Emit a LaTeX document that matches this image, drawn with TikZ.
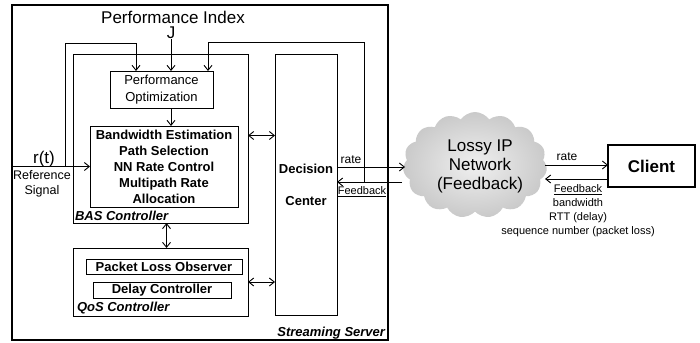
\documentclass[tikz,border=0pt]{standalone}
\usepackage{fontspec}
\setmainfont{Liberation Sans}
\usetikzlibrary{arrows.meta, shapes.symbols}

\tikzset{
  bigtxt/.style={font=\fontsize{17}{19}\selectfont},
  midtxt/.style={font=\fontsize{13}{17}\selectfont},
  boldtxt/.style={font=\fontsize{13}{16}\selectfont\bfseries},
  smalltxt/.style={font=\fontsize{11}{14}\selectfont},
  tagtxt/.style={font=\fontsize{13}{15}\selectfont\bfseries\itshape},
  blockbox/.style={rectangle, draw=black, anchor=north west, align=center},
}

\begin{document}
\begin{tikzpicture}[x=1pt, y=-1pt, inner sep=0, outer sep=0, line width=0.9pt,
  >={Straight Barb[length=5pt, width=8pt]}]
  \useasboundingbox (0,0) rectangle (700,342);

  % server side
  \node[blockbox, line width=1.4pt,
    minimum width=376pt,
    minimum height=335pt] (server) at (12,5) {};
  \node[tagtxt, anchor=south east] (servertag) at (385,339) {Streaming Server};
  \node[bigtxt] (perfidx) at (173,17) {Performance Index};
  \node[bigtxt] (jj) at (171,33) {J};

  \node[blockbox,
    minimum width=175pt,
    minimum height=169pt] (bas) at (73,54) {};
  \node[tagtxt, anchor=west] (bastag) at (75,216) {BAS Controller};
  \node[blockbox, midtxt,
    minimum width=103pt,
    minimum height=37pt] (po) at (110,71) {Performance\\Optimization};
  \node[blockbox, boldtxt,
    minimum width=148pt,
    minimum height=81pt] (bw) at (90,126) {Bandwidth Estimation\\Path Selection\\NN Rate Control\\Multipath Rate\\Allocation};

  \node[blockbox,
    minimum width=175pt,
    minimum height=68pt] (qos) at (73,248) {};
  \node[tagtxt, anchor=west] (qostag) at (77,308) {QoS Controller};
  \node[blockbox, boldtxt,
    minimum width=156pt,
    minimum height=15pt] (plo) at (86,259) {Packet Loss Observer};
  \node[blockbox, boldtxt,
    minimum width=138pt,
    minimum height=16pt] (delay) at (93,282) {Delay Controller};

  \node[blockbox, boldtxt,
    minimum width=62pt,
    minimum height=261pt] (dc) at (275,54) {Decision\\[16pt]Center};

  % network and client
  \node[cloud, cloud puffs=15, cloud puff arc=110, aspect=1.4,
    minimum width=144pt, minimum height=106pt,
    inner color=gray!12, outer color=gray!42] (net) at (475,165) {};
  \node[bigtxt, align=center] (nettxt) at (480,166) {Lossy IP\\Network\\(Feedback)};
  \node[blockbox, font=\fontsize{17}{19}\selectfont\bfseries, line width=1.2pt,
    minimum width=87pt,
    minimum height=42pt] (client) at (608,145) {Client};

  % reference input
  \node[bigtxt] (rt) at (44,159) {r(t)};
  \node[align=center, font=\fontsize{12.5}{15}\selectfont] (reflbl) at (42,183.5) {Reference\\Signal};
  \draw[->] (server.west |- bw.west) -- (bw.west);

  % performance loops
  \coordinate (lfb) at ([xshift=-25pt]bw.west);
  \coordinate (lturn) at (136,43);
  \draw[->] (lfb) |- (lturn) -- (lturn |- po.north);
  \draw[->] (jj.south) -- (jj.south |- po.north);
  \draw[->] (jj |- po.south) -- (jj |- bw.north);
  \coordinate (rfb) at (364,182);
  \coordinate (rturn) at (208,42);
  \draw[->] (rfb) |- (rturn) -- (rturn |- po.north);

  % internal links
  \draw[<->] ([yshift=3pt]bas.east) -- ([yshift=3pt]bas.east -| dc.west);
  \draw[<->] (qos.east) -- (qos.east -| dc.west);
  \draw[<->] ([xshift=6pt]bas.south) -- ([xshift=6pt]qos.north);

  % server to network
  \coordinate (netin) at (405,167);
  \coordinate (netfb) at (402,182);
  \draw[->] (netin -| dc.east) -- (netin);
  \draw[->] (netfb) -- (netfb -| dc.east);
  \node[font=\fontsize{12}{14}\selectfont] (ratein) at (351,160) {rate};
  \node[smalltxt] (fbin) at (362,192) {\underline{Feedback}};

  % network to client
  \coordinate (netout) at (545,165);
  \coordinate (netback) at (545,179);
  \draw[->] (netout) -- (netout -| client.west);
  \draw[->] (netback -| client.west) -- (netback);
  \node[font=\fontsize{12}{14}\selectfont] (rateout) at (567,157) {rate};
  \node[smalltxt, align=center] (fbinfo) at (578,211) {\underline{Feedback}\\bandwidth\\RTT (delay)\\sequence number (packet loss)};
\end{tikzpicture}
\end{document}
